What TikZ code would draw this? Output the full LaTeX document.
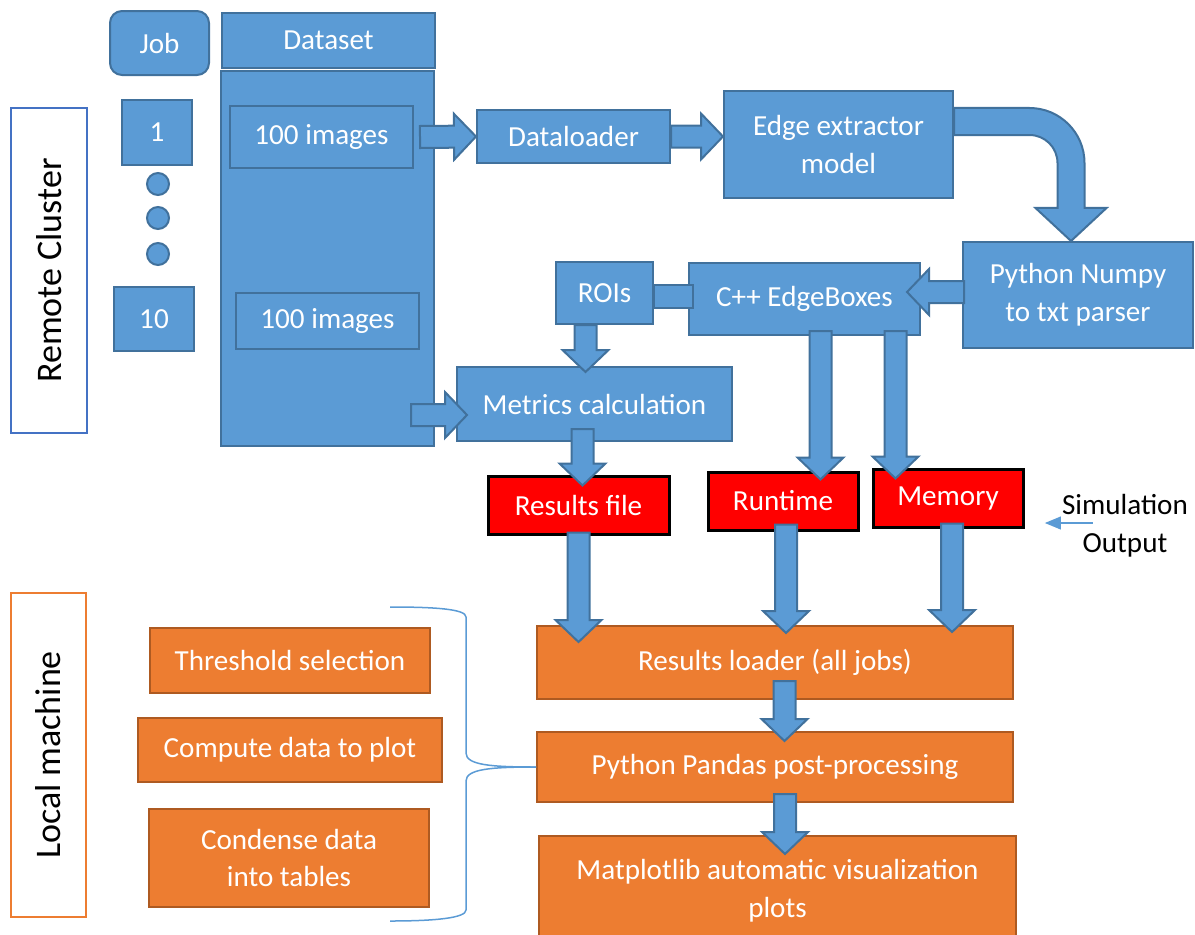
\documentclass[tikz,border=0pt]{standalone}
\usepackage{fontspec}
\setmainfont{Carlito}
\usepackage{tikz}
\usetikzlibrary{positioning,arrows.meta,calc,shapes.geometric}
\definecolor{boxblue}{HTML}{5B9BD5}
\definecolor{lineblue}{HTML}{41719C}
\definecolor{boxorange}{HTML}{ED7D31}
\definecolor{lineorange}{HTML}{AE5A21}
\definecolor{frameblue}{HTML}{4472C4}
\newlength{\pxu}\setlength{\pxu}{0.025cm}
% block arrow sizes: half shaft, half head, head length
\newcommand{\arrshaft}{0.275cm}
\newcommand{\arrhead}{0.575cm}
\newcommand{\arrlen}{0.55cm}
\tikzset{
  bbox/.style={draw=lineblue,fill=boxblue,line width=2\pxu,text=white,align=center,inner sep=0pt},
  obox/.style={draw=lineorange,fill=boxorange,line width=2\pxu,text=white,align=center,inner sep=0pt},
  rbox/.style={draw=black,fill=red,line width=3\pxu,text=white,align=center,inner sep=0pt},
  side/.style={draw,fill=white,line width=2\pxu,rotate=90,inner sep=0pt,font=\fontsize{25.6}{30}\selectfont},
  jobdot/.style={circle,draw=lineblue,fill=boxblue,line width=2\pxu,minimum size=22\pxu,inner sep=0pt},
  bluebar/.style={draw=lineblue,fill=boxblue,line width=2\pxu},
  % straight block arrow from start to tip
  barr/.style={draw=lineblue,fill=boxblue,line width=2\pxu,
    to path={let \p1=(\tikztostart),\p2=(\tikztotarget),
      \n1={veclen(\x2-\x1,\y2-\y1)},\n2={(\x2-\x1)/\n1},\n3={(\y2-\y1)/\n1} in
      ({\x1-(\n3)*\arrshaft},{\y1+(\n2)*\arrshaft})
      -- ({\x2-(\n2)*\arrlen-(\n3)*\arrshaft},{\y2-(\n3)*\arrlen+(\n2)*\arrshaft})
      -- ({\x2-(\n2)*\arrlen-(\n3)*\arrhead},{\y2-(\n3)*\arrlen+(\n2)*\arrhead})
      -- (\x2,\y2)
      -- ({\x2-(\n2)*\arrlen+(\n3)*\arrhead},{\y2-(\n3)*\arrlen-(\n2)*\arrhead})
      -- ({\x2-(\n2)*\arrlen+(\n3)*\arrshaft},{\y2-(\n3)*\arrlen-(\n2)*\arrshaft})
      -- ({\x1+(\n3)*\arrshaft},{\y1-(\n2)*\arrshaft}) -- cycle}},
  % right-then-down bent block arrow
  bentarr/.style={draw=lineblue,fill=boxblue,line width=2\pxu,
    to path={let \p1=(\tikztostart),\p2=(\tikztotarget) in
      (\x1,{\y1+0.3375cm}) -- ({\x2-1.0375cm},{\y1+0.3375cm})
      .. controls ({\x2-0.2785cm},{\y1+0.3375cm}) and ({\x2+0.3375cm},{\y1-0.2785cm}) .. ({\x2+0.3375cm},{\y1-1.0375cm})
      -- ({\x2+0.3375cm},{\y2+0.825cm}) -- ({\x2+0.8875cm},{\y2+0.825cm}) -- (\x2,\y2)
      -- ({\x2-0.8875cm},{\y2+0.825cm}) -- ({\x2-0.3375cm},{\y2+0.825cm})
      -- ({\x2-0.3375cm},{\y1-1.0375cm})
      .. controls ({\x2-0.3375cm},{\y1-0.65cm}) and ({\x2-0.65cm},{\y1-0.3375cm}) .. ({\x2-1.0375cm},{\y1-0.3375cm})
      -- (\x1,{\y1-0.3375cm}) -- cycle}},
  bracel/.style={draw=boxblue,line width=1.5\pxu},
  simarr/.style={draw=boxblue,line width=1.5\pxu,-{Triangle[length=0.4cm,width=0.32cm]}},
}

\begin{document}
\begin{tikzpicture}[x=0.025cm,y=-0.025cm,font=\fontsize{20.7}{27}\selectfont]
\useasboundingbox (0,0) rectangle (1195,934);

% side labels
\node[side,draw=frameblue,minimum width=325\pxu,minimum height=76\pxu] (rc) at (49,270.5) {Remote Cluster};
\node[side,draw=boxorange,minimum width=324\pxu,minimum height=75\pxu] (lm) at (48.5,755) {Local machine};

% jobs column
\node[bbox,rounded corners=12\pxu,minimum width=99\pxu,minimum height=64\pxu] (job) at (159.5,43) {Job};
\node[bbox,minimum width=70\pxu,minimum height=65\pxu] (j1) at (157,132.5) {1};
\foreach \yy [count=\i] in {184,218,254}
  \node[jobdot] (d\i) at (158,\yy) {};
\node[bbox,minimum width=80\pxu,minimum height=64\pxu] (j10) at (154,319) {10};

% dataset column
\node[bbox,minimum width=213\pxu,minimum height=55\pxu] (ds) at (328.5,40.5) {Dataset};
\node[bbox,minimum width=213\pxu,minimum height=375\pxu] (col) at (327.5,258.5) {};
\node[bbox,minimum width=183\pxu,minimum height=62\pxu] (img1) at (321.5,137) {100 images};
\node[bbox,minimum width=183\pxu,minimum height=56\pxu] (img2) at (327.5,321) {100 images};

% cluster pipeline
\node[bbox,minimum width=193\pxu,minimum height=53\pxu] (dl) at (573.5,136.5) {Dataloader};
\node[bbox,minimum width=229\pxu,minimum height=107\pxu] (ee) at (838.5,144.5) {Edge extractor\\model};
\node[bbox,minimum width=230\pxu,minimum height=106\pxu] (py) at (1078,295) {Python Numpy\\to txt parser};
\node[bbox,minimum width=231\pxu,minimum height=72\pxu] (cpp) at (804.5,299) {C++ EdgeBoxes};
\node[bbox,minimum width=97\pxu,minimum height=62\pxu] (roi) at (604.5,293) {ROIs};
\node[bbox,minimum width=275\pxu,minimum height=74\pxu] (met) at (594.5,404) {Metrics calculation};

% outputs
\node[rbox,minimum width=181\pxu,minimum height=58\pxu] (res) at (578.5,505) {Results file};
\node[rbox,minimum width=150\pxu,minimum height=58\pxu] (run) at (783,501) {Runtime};
\node[rbox,minimum width=150\pxu,minimum height=58\pxu] (mem) at (948,498) {Memory};
\node[align=center,inner sep=0pt] (sim) at (1125,526) {Simulation\\Output};

% local side
\node[obox,minimum width=280\pxu,minimum height=65\pxu] (thr) at (290,660.5) {Threshold selection};
\node[obox,minimum width=304\pxu,minimum height=64\pxu] (cmp) at (290,750) {Compute data to plot};
\node[obox,minimum width=280\pxu,minimum height=98\pxu] (cnd) at (289,858) {Condense data\\into tables};
\node[obox,minimum width=476\pxu,minimum height=73\pxu] (ld) at (775,662.5) {Results loader (all jobs)};
\node[obox,minimum width=476\pxu,minimum height=70\pxu] (pp) at (775,767) {Python Pandas post-processing};
\node[obox,minimum width=477\pxu,minimum height=110\pxu] (mpl) at (777.5,891) {Matplotlib automatic visualization\\plots};

% block arrows
\draw[barr] ($(img1.east)+(6,0)$) to (dl.west);
\draw[barr] (dl.east) to (dl.east -| ee.west);
\draw[bentarr] ($(ee.east)+(0,-23)$) to ($(py.north)+(-7,0)$);
\draw[barr] ($(py.west)+(2,-3)$) to ($(py.west -| cpp.east)+(-14,-3)$);
\draw[bluebar] ($(roi.east)+(0,-8)$) rectangle ($(cpp.west)+(5,9)$);
\draw[barr] ($(roi.south)+(-19,0)$) to ($(met.north)+(-9,6)$);
\draw[barr] ($(met.west)+(-45,11)$) to ($(met.west)+(11,11)$);
\draw[barr] ($(met.south)+(-12,-13)$) to ($(met.south |- res.north)+(-12,11)$);
\draw[barr] ($(cpp.south)+(16,-5)$) to ($(cpp.south |- run.north)+(16,9)$);
\draw[barr] ($(cpp.south)+(91,-5)$) to ($(cpp.south |- mem.north)+(91,11)$);
\draw[barr] ($(res.south)+(0,-3)$) to ($(res.south |- ld.north)+(0,17)$);
\draw[barr] ($(run.south)+(3,-7)$) to ($(run.south |- ld.north)+(3,8)$);
\draw[barr] ($(mem.south)+(4,-5)$) to ($(mem.south |- ld.north)+(4,7)$);
\draw[barr] ($(ld.south)+(9.5,-19)$) to ($(ld.south |- pp.north)+(9.5,10)$);
\draw[barr] ($(pp.south)+(10,-9)$) to ($(pp.south |- mpl.north)+(10,19)$);

% simulation output pointer
\coordinate (simtip) at ($(sim.west)+(-17,-3)$);
\draw[simarr] ($(sim.west)+(31,-3)$) -- (simtip);

% brace grouping the local steps
\draw[bracel] (pp.west) .. controls +(-45,0) and +(0,12) .. ++(-70,-14) -- ++(0,-136)
  .. controls +(0,-8) and +(45,0) .. ++(-76,-10);
\draw[bracel] (pp.west) .. controls +(-45,0) and +(0,-12) .. ++(-70,14) -- ++(0,129)
  .. controls +(0,8) and +(45,0) .. ++(-76,11);

\end{tikzpicture}
\end{document}
